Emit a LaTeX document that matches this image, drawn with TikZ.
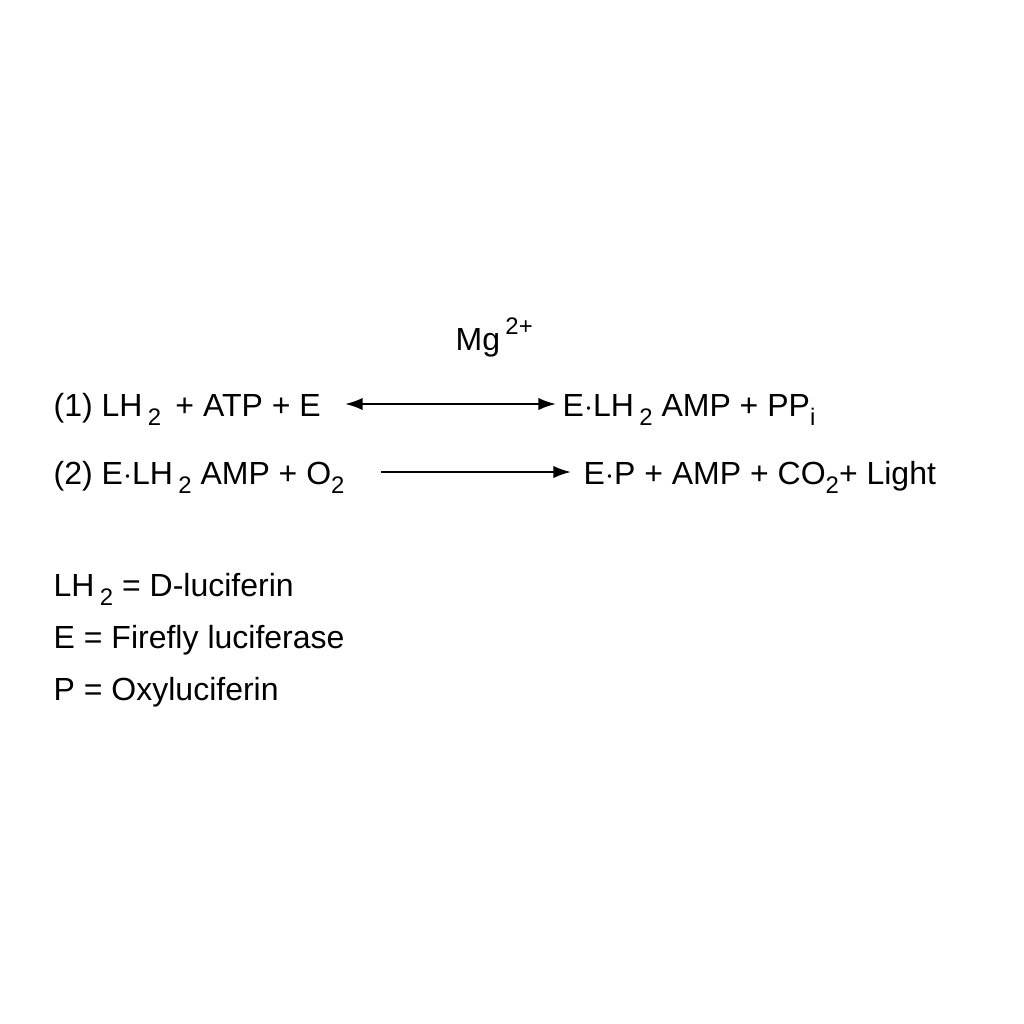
\documentclass[tikz,border=0pt]{standalone}
\usepackage{fontspec}
\setmainfont{Liberation Sans}
\newcommand{\sbs}[1]{\raisebox{-0.55ex}{\fontsize{6.8pt}{7pt}\selectfont #1}}
\newcommand{\sps}[1]{\raisebox{0.9ex}{\fontsize{6.8pt}{7pt}\selectfont #1}}
\begin{document}
\begin{tikzpicture}[x=0.01cm,y=-0.01cm,
  t/.style={anchor=base west,inner sep=0pt,font=\fontsize{9.1pt}{11pt}\selectfont},
  arr/.style={line width=0.6pt,-{Latex[length=5pt,width=3.5pt]}}]
\useasboundingbox (0,0) rectangle (1024,1024);
\usetikzlibrary{arrows.meta}
\node[t] (mg) at (455,350) {Mg\,\sps{2+}};
\node[t] (r1l) at (53,416) {(1) LH\,\sbs{2}\, + ATP + E};
\node[t] (r1r) at (562,416) {E$\cdot$LH\,\sbs{2} AMP + PP\sbs{i}};
\coordinate (a1) at (345,404);
\coordinate (b1) at (556,404);
\draw[line width=0.6pt,{Latex[length=5pt,width=3.5pt]}-{Latex[length=5pt,width=3.5pt]}] (a1) -- (b1);
\node[t] (r2l) at (53,484) {(2) E$\cdot$LH\,\sbs{2} AMP + O\sbs{2}};
\node[t] (r2r) at (583,484) {E$\cdot$P + AMP + CO\sbs{2}+ Light};
\coordinate (a2) at (381,472);
\coordinate (b2) at (571,472);
\draw[arr] (a2) -- (b2);
\node[t] (l1) at (53,596) {LH\,\sbs{2} = D-luciferin};
\node[t] (l2) at (53,648) {E = Firefly luciferase};
\node[t] (l3) at (53,700) {P = Oxyluciferin};
\end{tikzpicture}
\end{document}
